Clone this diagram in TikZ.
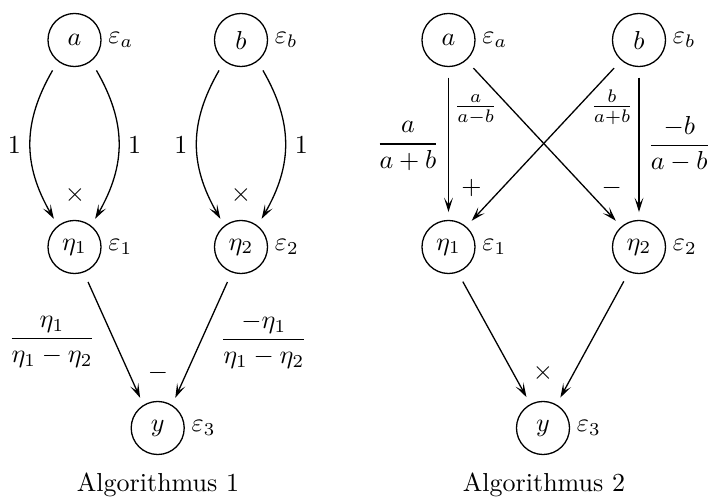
\documentclass[tikz,border=0pt]{standalone}
\usetikzlibrary{arrows.meta}
\begin{document}
\begin{tikzpicture}[x=0.3846pt,y=0.3846pt,
  vnode/.style={circle,draw,line width=0.5pt,minimum size=20.4pt,inner sep=0pt},
  elbl/.style={anchor=west,inner sep=2.4pt},
  tag/.style={inner sep=0pt},
  btag/.style={inner sep=0pt,anchor=base},
  arr/.style={line width=0.5pt,-{Stealth[length=5.5pt,width=3.4pt,inset=2.6pt]},shorten <=4pt,shorten >=3pt},
]
\useasboundingbox (0,0) rectangle (708,-498);
% ---------- Algorithmus 1 ----------
\node[vnode] (a) at (74.5,-40) {$a$};
\node[vnode] (b) at (241,-40) {$b$};
\node[vnode] (e1) at (74.5,-247) {$\eta_1$};
\node[vnode] (e2) at (241,-247) {$\eta_2$};
\node[vnode] (y) at (157.7,-428) {$y$};
\node[elbl] (ea) at (a.east) {$\varepsilon_a$};
\node[elbl] (eb) at (b.east) {$\varepsilon_b$};
\node[elbl] (ee1) at (e1.east) {$\varepsilon_1$};
\node[elbl] (ee2) at (e2.east) {$\varepsilon_2$};
\node[elbl] (ey) at (y.east) {$\varepsilon_3$};
\draw[arr] (a.-128) to[out=-120,in=120,looseness=1.1] (e1.128);
\draw[arr] (a.-52) to[out=-60,in=60,looseness=1.1] (e1.52);
\draw[arr] (b.-128) to[out=-120,in=120,looseness=1.1] (e2.128);
\draw[arr] (b.-52) to[out=-60,in=60,looseness=1.1] (e2.52);
\draw[arr] (e1.-70) -- (y.122);
\draw[arr] (e2.-110) -- (y.58);
\node[btag] (l1) at (14.3,-153.5) {$1$};
\node[btag] (l2) at (134.7,-153.5) {$1$};
\node[btag] (l3) at (181,-153.5) {$1$};
\node[btag] (l4) at (301.3,-153.5) {$1$};
\node[tag] (m1) at (75,-195) {$\times$};
\node[tag] (m2) at (241,-195) {$\times$};
\node[btag] (f1) at (52,-345) {$\displaystyle\frac{\eta_1}{\eta_1-\eta_2}$};
\node[btag] (f2) at (263.8,-346) {$\displaystyle\frac{-\eta_1}{\eta_1-\eta_2}$};
\node[tag] (s1) at (158,-373) {$-$};
\node[btag] (t1) at (158,-491.5) {Algorithmus 1};
% ---------- Algorithmus 2 ----------
\node[vnode] (A) at (448.5,-40) {$a$};
\node[vnode] (B) at (639,-40) {$b$};
\node[vnode] (E1) at (448.5,-247) {$\eta_1$};
\node[vnode] (E2) at (639,-247) {$\eta_2$};
\node[vnode] (Y) at (543,-428) {$y$};
\node[elbl] (EA) at (A.east) {$\varepsilon_a$};
\node[elbl] (EB) at (B.east) {$\varepsilon_b$};
\node[elbl] (EE1) at (E1.east) {$\varepsilon_1$};
\node[elbl] (EE2) at (E2.east) {$\varepsilon_2$};
\node[elbl] (EY) at (Y.east) {$\varepsilon_3$};
\draw[arr] (A.-90) -- (E1.90);
\draw[arr] (A.-49) -- (E2.131);
\draw[arr] (B.-131) -- (E1.49);
\draw[arr] (B.-90) -- (E2.90);
\draw[arr] (E1.-70) -- (Y.118);
\draw[arr] (E2.-112) -- (Y.60);
\node[btag] (g1) at (408,-150.5) {$\displaystyle\frac{a}{a+b}$};
\node[btag] (g2) at (475.7,-113.2) {$\frac{a}{a-b}$};
\node[btag] (g3) at (612,-113.2) {$\frac{b}{a+b}$};
\node[btag] (g4) at (679.3,-152) {$\displaystyle\frac{-b}{a-b}$};
\node[tag] (p1) at (471.5,-188.3) {$+$};
\node[tag] (p2) at (611.8,-188.3) {$-$};
\node[tag] (p3) at (543,-373) {$\times$};
\node[btag] (t2) at (544,-491.5) {Algorithmus 2};
\end{tikzpicture}
\end{document}
